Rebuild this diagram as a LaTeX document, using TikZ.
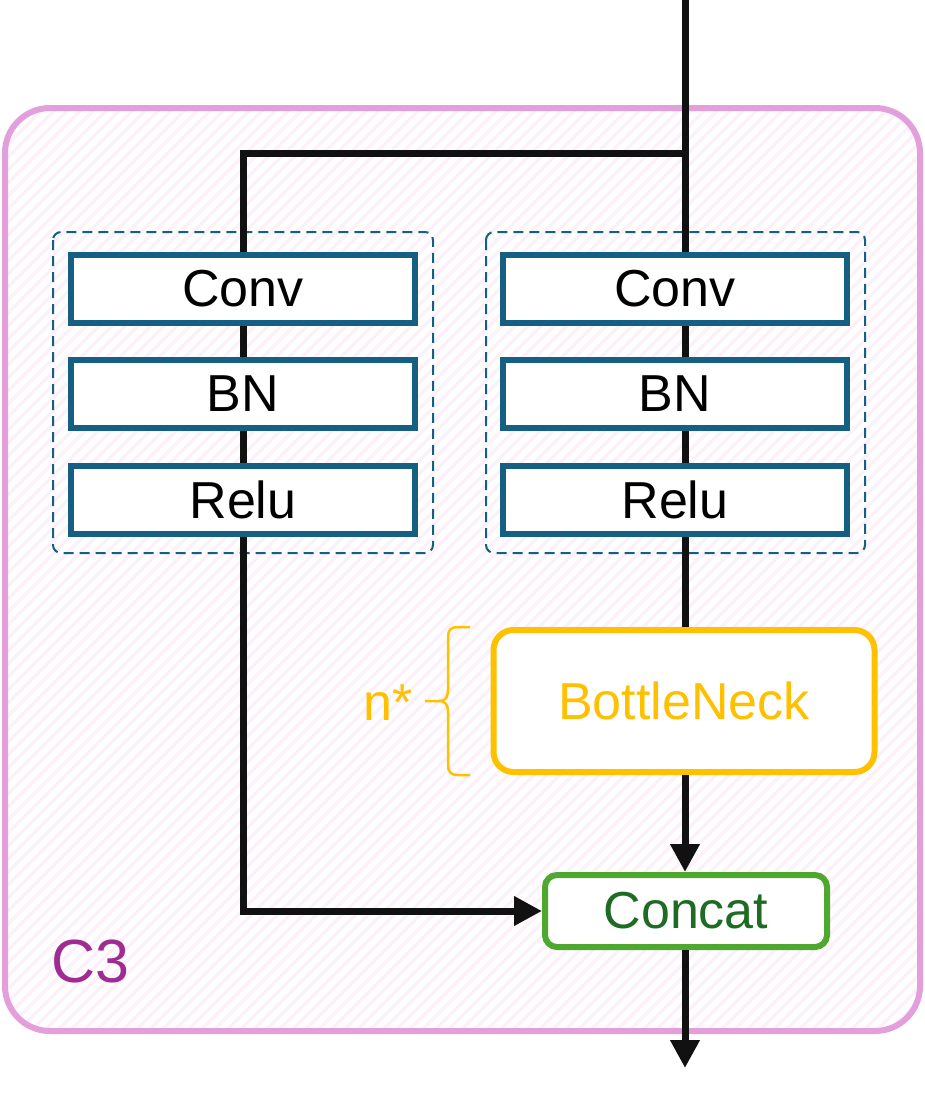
\documentclass[tikz,border=0pt]{standalone}
\usepackage{fontspec}
\setmainfont{Liberation Sans}
\usetikzlibrary{arrows.meta}
\definecolor{boxblue}{HTML}{156082}
\definecolor{c3pink}{HTML}{E39FDB}
\definecolor{c3purple}{HTML}{A02B93}
\definecolor{bngold}{HTML}{FFC000}
\definecolor{catgreen}{HTML}{4EA72E}
\definecolor{catdark}{HTML}{1E6B24}
\definecolor{stripe}{RGB}{252,241,250}
\definecolor{wire}{HTML}{111111}
\tikzset{
  layerbox/.style={draw=boxblue, line width=6pt, fill=white, minimum width=344pt, minimum height=68pt, inner sep=0pt, font=\fontsize{52}{60}\selectfont},
  groupbox/.style={draw=boxblue, line width=2pt, dash pattern=on 10pt off 6pt, rounded corners=8pt},
  bnbox/.style={draw=bngold, line width=6pt, fill=white, rounded corners=20pt, minimum width=381pt, minimum height=142pt, inner sep=0pt, text=bngold, font=\fontsize{52}{60}\selectfont},
  catbox/.style={draw=catgreen, line width=6pt, fill=white, rounded corners=12pt, minimum width=282pt, minimum height=72pt, inner sep=0pt, text=catdark, font=\fontsize{52}{60}\selectfont},
  wireline/.style={draw=wire, line width=7pt},
  wirearrow/.style={wireline, -{Triangle[length=28pt,width=28pt]}},
  stripeline/.style={draw=stripe, line width=3.5pt},
}
\begin{document}
\begin{tikzpicture}[x=1pt,y=-1pt]
\useasboundingbox (0,0) rectangle (925,1101);
\fill[white] (0,0) rectangle (925,1101);
% C3 container with hatched fill
\begin{scope}
  \clip[rounded corners=45pt] (5,108) rectangle (920,1031);
  \fill[white] (5,108) rectangle (920,1031);
  \foreach \i in {-1105,-1092,...,930} {
    \draw[stripeline] (\i,1101) -- (\i+1101,0);
  }
\end{scope}
\draw[c3pink, line width=6pt, rounded corners=45pt] (5,108) rectangle (920,1031);
\node[text=c3purple, font=\fontsize{61}{70}\selectfont] (c3) at (90,961) {C3};

% dashed groups
\draw[groupbox] (53,232) rectangle (433,553);
\draw[groupbox] (486,232) rectangle (865,553);

% coordinates
\coordinate (top) at (685,0);
\coordinate (split) at (685,153);
\coordinate (bottom) at (685,1068);
\path
  (243,289) coordinate (p1) (243,393.5) coordinate (p2) (243,499.5) coordinate (p3)
  (675,289) coordinate (q1) (675,393.5) coordinate (q2) (675,499.5) coordinate (q3);

% bottleneck and concat
\node[bnbox] (bneck) at (684,701) {BottleNeck};
\node[catbox] (concat) at (686,911) {Concat};

% wires behind layer boxes
\draw[wireline] (top) -- (top |- bneck.north);
\draw[wireline] (split) -| (p1);
\draw[wirearrow] (p1) |- (concat.west);
\draw[wirearrow] (bneck.south -| top) -- (concat.north -| top);
\draw[wirearrow] (concat.south -| top) -- (bottom);

% layer boxes
\node[layerbox] (conv1) at (p1) {Conv};
\node[layerbox] (bn1) at (p2) {BN};
\node[layerbox] (relu1) at (p3) {Relu};
\node[layerbox] (conv2) at (q1) {Conv};
\node[layerbox] (bn2) at (q2) {BN};
\node[layerbox] (relu2) at (q3) {Relu};

% brace and n*
\draw[bngold, line width=2.5pt]
  (470,627) -- (458,627) .. controls (451,627) and (448,630) .. (448,637) -- (448,689)
  .. controls (448,697) and (446,701) .. (439,701) -- (425,701);
\draw[bngold, line width=2.5pt]
  (470,775) -- (458,775) .. controls (451,775) and (448,772) .. (448,765) -- (448,713)
  .. controls (448,705) and (446,701) .. (439,701);
\node[text=bngold, font=\fontsize{52}{60}\selectfont] (nstar) at (388,703) {n*};
\end{tikzpicture}
\end{document}
